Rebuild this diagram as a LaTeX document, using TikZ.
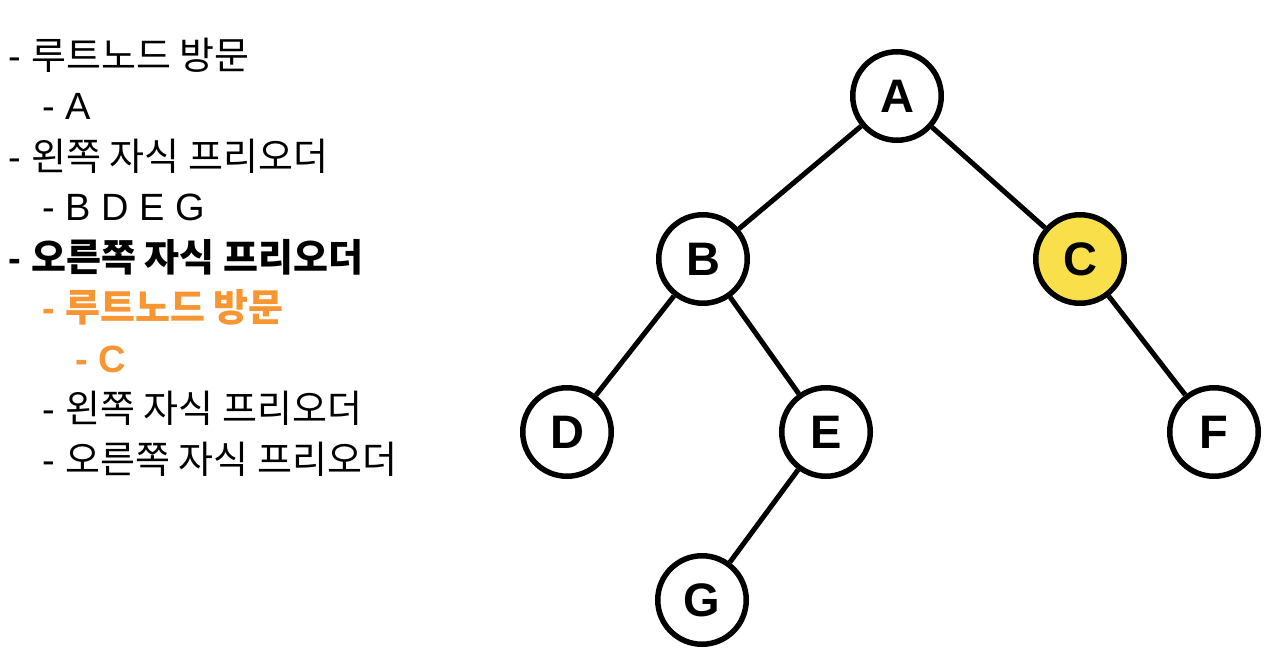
\documentclass[tikz,border=0pt]{standalone}
\usepackage{fontspec}
\setmainfont{Liberation Sans}
\newfontfamily\kr{Noto Sans CJK KR}
\definecolor{orng}{RGB}{247,150,50}
\definecolor{ylw}{RGB}{249,224,75}
\begin{document}
\begin{tikzpicture}[x=1pt,y=-1pt,
  txt/.style={anchor=base west,inner sep=0pt,font=\fontsize{38}{42}\selectfont},
  btxt/.style={txt,font=\fontsize{38}{42}\selectfont\bfseries},
  tn/.style={circle,draw=black,line width=5.5pt,fill=white,minimum size=88.5pt,inner sep=0pt,font=\fontsize{47}{50}\selectfont\bfseries},
  edge/.style={line width=5pt}]
\useasboundingbox (0,0) rectangle (1280,659);
% text lines
\node[txt] (t1) at (8,69) {- {\kr 루트노드 방문}};
\node[txt] (t2) at (42,119.5) {- A};
\node[txt] (t3) at (8,170) {- {\kr 왼쪽 자식 프리오더}};
\node[txt] (t4) at (42,220.5) {- B D E G};
\node[btxt] (t5) at (8,271) {- {\kr\bfseries 오른쪽 자식 프리오더}};
\node[btxt,text=orng] (t6) at (42,321.5) {- {\kr\bfseries 루트노드 방문}};
\node[btxt,text=orng] (t7) at (75,372) {- C};
\node[txt] (t8) at (42,422.5) {- {\kr 왼쪽 자식 프리오더}};
\node[txt] (t9) at (42,473) {- {\kr 오른쪽 자식 프리오더}};
% tree
\node[tn] (A) at (897,96) {A};
\node[tn] (B) at (703,259) {B};
\node[tn,fill=ylw] (C) at (1080,259) {C};
\node[tn] (D) at (567,432) {D};
\node[tn] (E) at (826,432) {E};
\node[tn] (F) at (1214,432) {F};
\node[tn] (G) at (702,600) {G};
\draw[edge] (A) -- (B);
\draw[edge] (A) -- (C);
\draw[edge] (B) -- (D);
\draw[edge] (B) -- (E);
\draw[edge] (C) -- (F);
\draw[edge] (E) -- (G);
\end{tikzpicture}
\end{document}
